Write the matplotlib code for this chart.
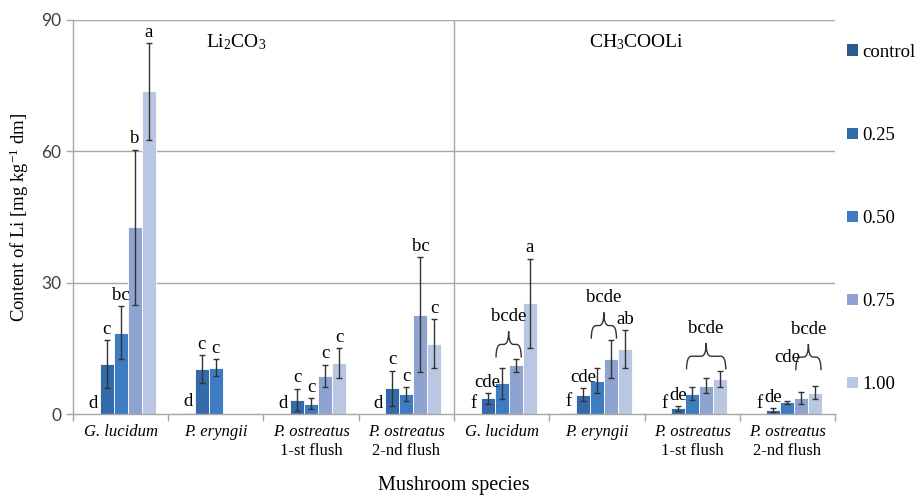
import numpy as np
import matplotlib
matplotlib.use("Agg")
import matplotlib.pyplot as plt
from matplotlib.path import Path
from matplotlib.patches import PathPatch, Patch

plt.rcParams['font.family'] = ['Liberation Serif', 'DejaVu Serif']
plt.rcParams['mathtext.fontset'] = 'custom'
plt.rcParams['mathtext.rm'] = 'Liberation Serif'
plt.rcParams['mathtext.it'] = 'Liberation Serif:italic'

# categories (4 species x 2 salts)
species = ["G. lucidum", "P. eryngii", "P. ostreatus", "P. ostreatus"]
flush = ["", "", "1-st flush", "2-nd flush"]
salts = [r"Li$_2$CO$_3$", r"CH$_3$COOLi"]
doses = ["control", "0.25", "0.50", "0.75", "1.00"]
colors = ["#2b5a8e", "#3469aa", "#3e7cc2", "#8ea3cf", "#b9c7e3"]

# mean values per dose, 8 groups (Li2CO3 x4, CH3COOLi x4)
control = [0.0, 0.3, 0.0, 0.0, 0.0, 0.3, 0.0, 0.0]
d025 = [11.4, 10.3, 3.3, 5.9, 3.6, 4.4, 1.3, 0.9]
d050 = [18.6, 10.6, 2.4, 4.5, 7.0, 7.6, 4.6, 2.7]
d075 = [42.7, np.nan, 8.7, 22.7, 11.1, 12.6, 6.5, 3.7]
d100 = [73.7, np.nan, 11.6, 16.0, 25.3, 14.9, 8.0, 4.9]

# standard deviations
control_sd = [0, 0, 0, 0, 0, 0, 0, 0]
d025_sd = [5.4, 3.2, 2.5, 4.0, 1.2, 1.5, 0.5, 0.4]
d050_sd = [6.0, 2.0, 1.2, 1.6, 3.5, 2.9, 1.5, 0.3]
d075_sd = [17.7, np.nan, 2.6, 13.2, 1.5, 4.3, 1.8, 1.4]
d100_sd = [11.0, np.nan, 3.4, 5.6, 10.2, 4.3, 1.9, 1.4]

# significance letters: (group, first bar, last bar, text)
letters = [
    (0, 0, 0, "d"), (0, 1, 1, "c"), (0, 2, 2, "bc"), (0, 3, 3, "b"), (0, 4, 4, "a"),
    (1, 0, 0, "d"), (1, 1, 1, "c"), (1, 2, 2, "c"),
    (2, 0, 0, "d"), (2, 1, 1, "c"), (2, 2, 2, "c"), (2, 3, 3, "c"), (2, 4, 4, "c"),
    (3, 0, 0, "d"), (3, 1, 1, "c"), (3, 2, 2, "c"), (3, 3, 3, "bc"), (3, 4, 4, "c"),
    (4, 0, 0, "f"), (4, 1, 1, "cde"), (4, 2, 3, "bcde"), (4, 4, 4, "a"),
    (5, 0, 0, "f"), (5, 1, 1, "cde"), (5, 2, 3, "bcde"), (5, 4, 4, "ab"),
    (6, 0, 0, "f"), (6, 1, 1, "de"), (6, 2, 4, "bcde"),
    (7, 0, 0, "f"), (7, 1, 1, "de"), (7, 2, 2, "cde"), (7, 3, 4, "bcde"),
]

means = np.array([control, d025, d050, d075, d100])
sds = np.array([control_sd, d025_sd, d050_sd, d075_sd, d100_sd])

fig = plt.figure(figsize=(9.17, 4.95), dpi=100)
ax = fig.add_axes([0.0796, 0.1636, 0.8310, 0.7960])

ngroups = means.shape[1]
x = np.arange(ngroups) + 0.5
w = 0.147
grid_c = "#a6a6a6"
fs_letter = 13.5

for v in [30, 60, 90]:
    ax.axhline(v, color=grid_c, lw=1.0, zorder=0)
ax.axvline(4, color=grid_c, lw=1.0, zorder=0)

for i in range(5):
    xi = x + (i - 2) * w
    ax.bar(xi, means[i], w, color=colors[i], edgecolor="white", linewidth=0.6,
           label=doses[i], zorder=2)
    ok = sds[i] > 0
    ax.errorbar(xi[ok], means[i][ok], yerr=sds[i][ok], fmt="none",
                ecolor="#333333", elinewidth=1.0, capsize=2.5, capthick=1.0, zorder=3)

tops = np.nan_to_num(means + sds)


def brace(x0, x1, yb, h):
    xm = (x0 + x1) / 2
    d = 0.05
    ym = yb + 0.5 * h
    verts = [(x0, yb), (x0, ym), (x0 + d, ym), (xm - d, ym), (xm, ym), (xm, yb + h),
             (xm, ym), (xm + d, ym), (x1 - d, ym), (x1, ym), (x1, yb)]
    codes = [Path.MOVETO, Path.CURVE3, Path.CURVE3, Path.LINETO, Path.CURVE3, Path.CURVE3,
             Path.CURVE3, Path.CURVE3, Path.LINETO, Path.CURVE3, Path.CURVE3]
    ax.add_patch(PathPatch(Path(verts, codes), fill=False, ec="#333333", lw=1.0, zorder=3))


for g, b0, b1, txt in letters:
    if b0 == b1:
        bx = x[g] + (b0 - 2) * w
        lift = 28 if (g == 7 and b0 == 2) else 4.5
        ax.annotate(txt, (bx, tops[b0, g]), xytext=(0, lift), textcoords="offset points",
                    ha="center", va="baseline", fontsize=fs_letter, zorder=4)
    else:
        xa = x[g] + (b0 - 2) * w - 0.4 * w
        xb = x[g] + (b1 - 2) * w + 0.4 * w
        yb = tops[b0:b1 + 1, g].max() + 0.3
        if g == 7:
            yb += 3.4
        brace(xa, xb, yb, 6.0)
        ax.annotate(txt, ((xa + xb) / 2, yb + 6.0), xytext=(0, 7.5), textcoords="offset points",
                    ha="center", va="baseline", fontsize=fs_letter, zorder=4)

ax.set_xlim(0, ngroups)
ax.set_ylim(0, 90)
ax.set_yticks([0, 30, 60, 90])
ax.set_yticklabels(["0", "30", "60", "90"], family="Lato", fontsize=12.5, color="#404040")
ax.set_xticks(np.arange(ngroups + 1))
ax.set_xticklabels([])
ax.tick_params(axis="both", color=grid_c, length=5, width=1.0)
for s in ["top", "right"]:
    ax.spines[s].set_visible(False)
for s in ["left", "bottom"]:
    ax.spines[s].set_color(grid_c)
    ax.spines[s].set_linewidth(1.0)

trans = ax.get_xaxis_transform()
for g in range(ngroups):
    k = g % 4
    ax.text(x[g], -0.045, species[k], transform=trans, ha="center", va="center",
            style="italic", fontsize=12)
    if flush[k]:
        ax.text(x[g], -0.095, flush[k], transform=trans, ha="center", va="center",
                fontsize=12)

ax.text(0.214, 0.945, salts[0], transform=ax.transAxes, ha="center", va="center", fontsize=14)
ax.text(0.739, 0.945, salts[1], transform=ax.transAxes, ha="center", va="center", fontsize=14)

ax.set_ylabel(r"Content of Li [mg kg$^{-1}$ dm]", fontsize=13.5, labelpad=7)
fig.text(0.495, 0.02, "Mushroom species", ha="center", va="center", fontsize=14.5)

handles = [Patch(facecolor=c, edgecolor="none") for c in colors]
fig.legend(handles, doses, loc="upper left", bbox_to_anchor=(0.916, 0.927), frameon=False,
           fontsize=13.5, handlelength=0.55, handleheight=0.55, handletextpad=0.25,
           labelspacing=3.53, borderaxespad=0)

fig.savefig("out.png", dpi=100)
